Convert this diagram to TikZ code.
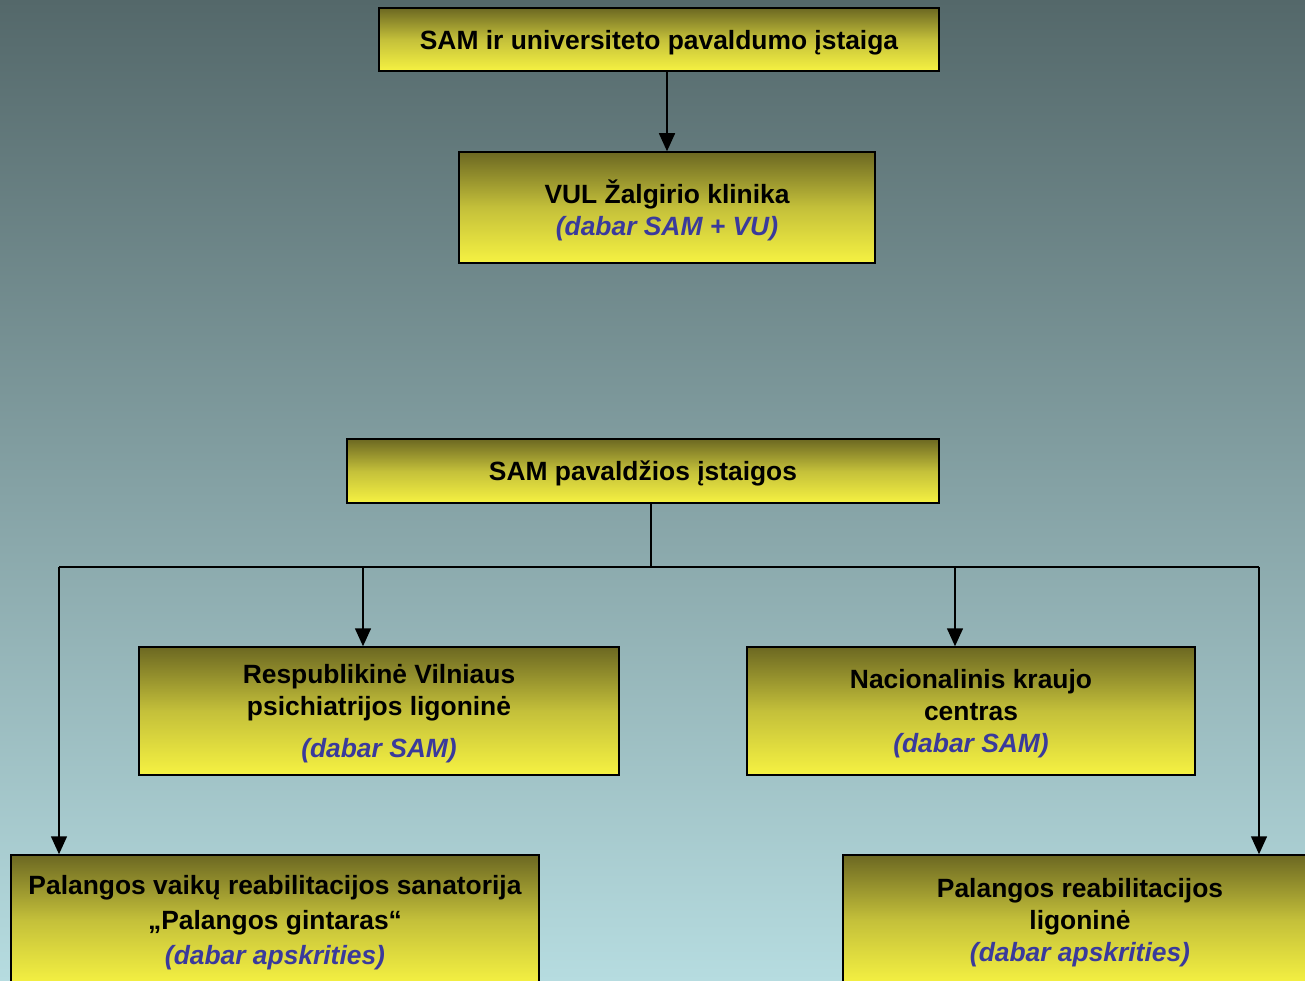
\documentclass[tikz,border=0pt]{standalone}
\usepackage{fontspec}
\setmainfont{Liberation Sans}
\usetikzlibrary{arrows.meta}
\definecolor{bgtop}{RGB}{84,104,106}
\definecolor{bgbot}{RGB}{182,220,224}
\definecolor{boxtop}{RGB}{108,104,34}
\definecolor{boxmid}{RGB}{196,192,58}
\definecolor{boxbot}{RGB}{246,242,66}
\definecolor{nowtext}{RGB}{58,58,156}
\newcommand{\now}[1]{{\color{nowtext}\itshape #1}}
\tikzset{
  unit/.style={draw=black,line width=1.5pt,top color=boxtop,bottom color=boxbot,middle color=boxmid,
    align=center,inner sep=0pt,text depth=0pt,font=\fontsize{26.4}{32}\selectfont\bfseries},
  link/.style={line width=1.5pt},
  arr/.style={link,-{Triangle[length=18pt,width=16pt]}}
}
\begin{document}
\begin{tikzpicture}[x=1pt,y=-1pt]
\clip (0,0) rectangle (1305,981);
\shade[top color=bgtop,bottom color=bgbot] (0,0) rectangle (1305,981);
\node[unit,minimum width=560,minimum height=63] at (659,39.5) (top) {SAM ir universiteto pavaldumo įstaiga};
\node[unit,minimum width=416,minimum height=111] at (667,207.5) (vul) {VUL Žalgirio klinika\\\now{(dabar SAM + VU)}};
\node[unit,minimum width=592,minimum height=64] at (643,471) (sam) {SAM pavaldžios įstaigos};
\node[unit,minimum width=480,minimum height=128] at (379,711) (resp) {Respublikinė Vilniaus\\psichiatrijos ligoninė\\[10pt]\now{(dabar SAM)}};
\node[unit,minimum width=448,minimum height=128] at (971,711) (nac) {Nacionalinis kraujo\\centras\\\now{(dabar SAM)}};
\node[unit,minimum width=528,minimum height=130] at (275,920) (palv) {Palangos vaikų reabilitacijos sanatorija\\[3pt]„Palangos gintaras“\\[3pt]\now{(dabar apskrities)}};
\node[unit,minimum width=474,minimum height=130] at (1080,920) (palr) {Palangos reabilitacijos\\ligoninė\\\now{(dabar apskrities)}};
\coordinate (bus) at (651,567);
\coordinate (busl) at (59,567);
\coordinate (busr) at (1259,567);
\coordinate (busresp) at (363,567);
\coordinate (busnac) at (955,567);
\draw[arr] (top.south -| vul.north) -- (vul.north);
\draw[link] (sam.south -| bus) -- (bus);
\draw[link] (busl) -- (busr);
\draw[arr] (busl) -- (busl |- palv.north);
\draw[arr] (busresp) -- (busresp |- resp.north);
\draw[arr] (busnac) -- (busnac |- nac.north);
\draw[arr] (busr) -- (busr |- palr.north);
\end{tikzpicture}
\end{document}
